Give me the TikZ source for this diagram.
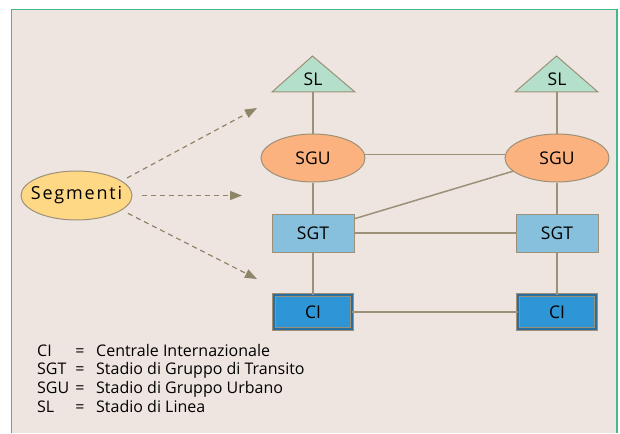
\documentclass[tikz,border=0pt]{standalone}
\usepackage{fontspec}
\setmainfont{Open Sans}
\newfontfamily\spacedfont[LetterSpace=10]{Open Sans}
\usetikzlibrary{shapes.geometric,arrows.meta,calc}

\definecolor{paper}{HTML}{EEE5E0}
\definecolor{framegreen}{HTML}{3DBB8B}
\definecolor{edgegray}{HTML}{9C9178}
\definecolor{arrowgray}{HTML}{8E8668}
\definecolor{slfill}{HTML}{B3DFCB}
\definecolor{sgufill}{HTML}{FCB27E}
\definecolor{segfill}{HTML}{FFD885}
\definecolor{sgtfill}{HTML}{86C0DD}
\definecolor{cifill}{HTML}{2E96D6}
\definecolor{ciedge}{HTML}{2B6E9E}

% text of a fixed-size node: zero width so the shape keeps its own size
\newcommand{\tag}[1]{\makebox[0pt]{#1}}

\tikzset{
  outline/.style={draw=edgegray, line width=1pt},
  slshape/.style={outline, fill=slfill},
  nodefont/.style={font=\fontsize{17.5}{20}\selectfont},
  sgubox/.style={ellipse, outline, fill=sgufill, minimum width=104pt, minimum height=48pt, inner sep=0pt, nodefont},
  segbox/.style={ellipse, outline, fill=segfill, minimum width=111pt, minimum height=49pt, inner sep=0pt,
    font=\spacedfont\fontsize{18}{22}\selectfont},
  sgtbox/.style={rectangle, outline, fill=sgtfill, minimum width=82pt, minimum height=38pt, inner sep=0pt, nodefont},
  cibox/.style={rectangle, draw=edgegray, line width=0.9pt, double=ciedge, double distance=2.4pt, fill=cifill,
    minimum width=77.8pt, minimum height=33.8pt, inner sep=0pt, nodefont},
  labeltext/.style={inner sep=0pt, nodefont},
  link/.style={draw=edgegray, line width=1.5pt},
  feed/.style={draw=arrowgray, line width=1.2pt, dash pattern=on 5pt off 4pt,
    -{Triangle[length=12pt,width=9pt,fill=arrowgray]}},
  legend/.style={inner sep=0pt, anchor=base west, font=\fontsize{16}{18}\selectfont}
}

\begin{document}
\begin{tikzpicture}[x=1pt,y=-1pt]
  \useasboundingbox (0,0) rectangle (620,433);
  \fill[white] (0,0) rectangle (620,433);
  \fill[paper] (11.5,9.5) rectangle (617,433);
  \draw[framegreen, line width=1.5pt] (11.5,433) -- (11.5,9.5) -- (617,9.5) -- (617,433);

  % stadi di linea (triangoli)
  \filldraw[slshape] (272,92) -- (312.5,56) -- (355,92) -- cycle;
  \filldraw[slshape] (515,92) -- (556.5,56) -- (598,92) -- cycle;
  \node[labeltext] (sl1) at (313,79) {\tag{SL}};
  \node[labeltext] (sl2) at (557,79) {\tag{SL}};
  \coordinate (sl1base) at (313,92);
  \coordinate (sl2base) at (557,92);

  % nodi della rete
  \node[sgubox] (sgu1) at (313,158) {\tag{SGU}};
  \node[sgubox] (sgu2) at (557,158) {\tag{SGU}};
  \node[sgtbox] (sgt1) at (313,233) {\tag{SGT}};
  \node[sgtbox] (sgt2) at (557,233) {\tag{SGT}};
  \node[cibox] (ci1) at (313,312) {\tag{CI}};
  \node[cibox] (ci2) at (557,312) {\tag{CI}};

  \node[segbox] (seg) at (76.5,195.5) {\tag{Segmenti}};

  % collegamenti
  \draw[link] (sl1base) -- (sgu1);
  \draw[link] (sl2base) -- (sgu2);
  \draw[link] (sgu1) -- (sgt1);
  \draw[link] (sgu2) -- (sgt2);
  \draw[link] (sgt1) -- (ci1);
  \draw[link] (sgt2) -- (ci2);
  \draw[link] (sgu1.4) -- (sgu2.176);
  \draw[link] (sgt1.19) -- (sgu2);
  \draw[link] (sgt1) -- (sgt2);
  \draw[link] (ci1) -- (ci2);

  % frecce tratteggiate dai segmenti
  \coordinate (tipA) at (257,108);
  \coordinate (tipB) at (242,195.5);
  \coordinate (tipC) at (257,279);
  \draw[feed, shorten <=6pt] (seg.18) -- (tipA);
  \draw[feed, shorten <=9pt] (seg.east) -- (tipB);
  \draw[feed, shorten <=7pt] (seg.-18) -- (tipC);

  % legenda
  \foreach \i/\ab/\desc [count=\k] in {356/CI/Centrale Internazionale,
      374.7/SGT/Stadio di Gruppo di Transito,
      393.4/SGU/Stadio di Gruppo Urbano,
      412.1/SL/Stadio di Linea}{
    \node[legend] (ab\k) at (37,\i) {\ab};
    \node[legend, anchor=base] (eq\k) at (80,\i) {=};
    \node[legend] (ds\k) at (96,\i) {\desc};
  }
\end{tikzpicture}
\end{document}
